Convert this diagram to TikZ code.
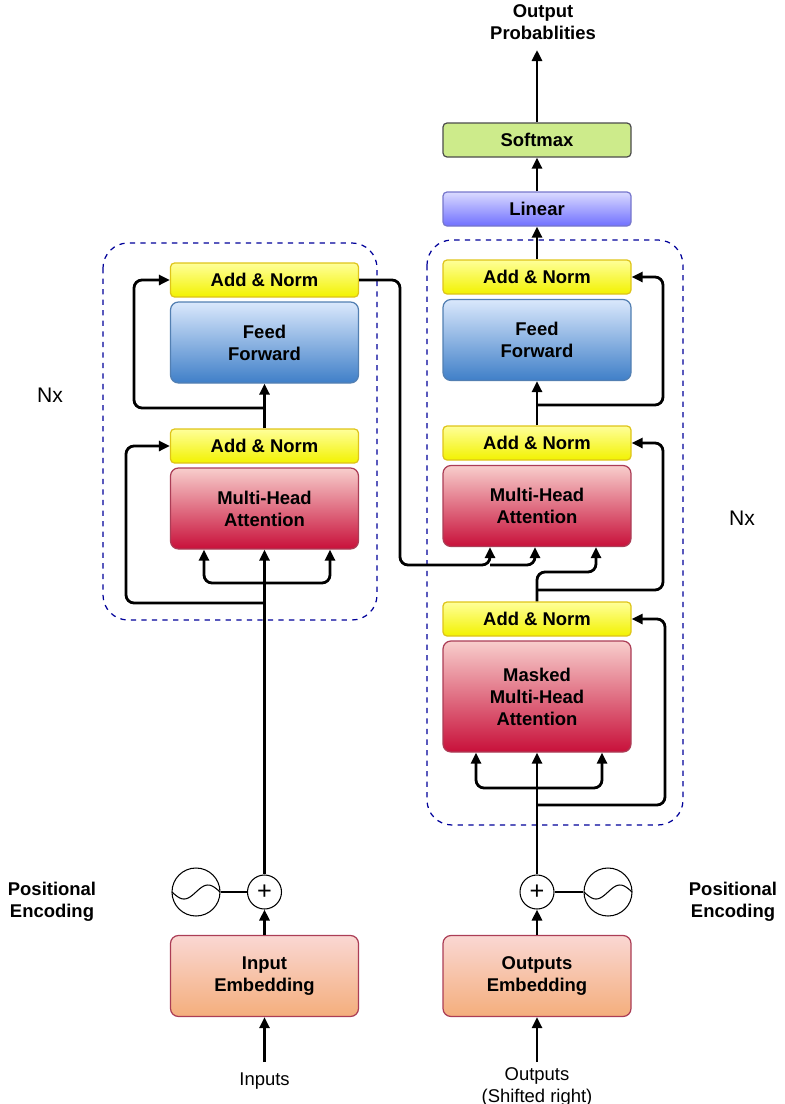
\documentclass[tikz,border=0pt]{standalone}
\usepackage{fontspec}
\setmainfont{Liberation Sans}
\usetikzlibrary{arrows.meta,positioning,calc}

\definecolor{anTop}{HTML}{FFFF99}
\definecolor{anBot}{HTML}{F2F200}
\definecolor{ffTop}{HTML}{DAE8FC}
\definecolor{ffBot}{HTML}{3F7FC8}
\definecolor{mhTop}{HTML}{F8CECC}
\definecolor{mhBot}{HTML}{C8103A}
\definecolor{emTop}{HTML}{FAD7D3}
\definecolor{emBot}{HTML}{F4AE7C}
\definecolor{smFill}{HTML}{CDEB8B}
\definecolor{liTop}{HTML}{DADAFF}
\definecolor{liBot}{HTML}{7070FF}

\begin{document}
\begin{tikzpicture}
            [x=0.2mm, y=-0.2mm, >={Triangle[length=2.2mm,width=2mm]},
             font=\bfseries\fontsize{10.5}{12.5}\selectfont,
             box/.style={draw, rounded corners=1.6mm, minimum width=37.6mm, align=center, line width=0.7pt},
             addnorm/.style={box, rounded corners=0.8mm, minimum height=6.8mm, draw=anBot!60!brown, top color=anTop, bottom color=anBot},
             feedfwd/.style={box, minimum height=16.2mm, draw=ffBot!70!gray, top color=ffTop, bottom color=ffBot},
             attn/.style={box, minimum height=16.2mm, draw=mhBot!60!gray, top color=mhTop, bottom color=mhBot},
             embed/.style={box, minimum height=16.2mm, draw=mhBot!60!gray, top color=emTop, bottom color=emBot},
             plus/.style={draw, circle, minimum size=6.8mm, inner sep=0pt, line width=0.6pt, font=\Large},
             wave/.style={draw, circle, minimum size=9.6mm, inner sep=0pt, line width=0.6pt},
             conn/.style={line width=1.6pt, rounded corners=1.6mm},
             frame/.style={draw=blue!60!black, dashed, line width=0.7pt, rounded corners=5mm}]
            \useasboundingbox (0,0) rectangle (785,1104);

            % encoder
            \draw[frame] (103,243) rectangle (377,620);
            \node[addnorm] (encAN2) at (264.5,280) {Add \& Norm};
            \node[feedfwd] (encFF) at (264.5,342.5) {Feed\\Forward};
            \node[addnorm] (encAN1) at (264.5,446) {Add \& Norm};
            \node[attn] (encMHA) at (264.5,508.5) {Multi-Head\\Attention};
            \node[embed] (encEmb) at (264.5,976) {Input\\Embedding};
            \node[plus] (encPlus) at (264.5,892) {+};
            \node[wave] (encWave) at (196,892) {};
            \node[font=\fontsize{10.5}{12.5}\selectfont] (inputs) at (264.5,1081) {Inputs};
            \node[font=\fontsize{12}{14}\selectfont] (encNx) at (50,395) {Nx};
            \node[align=center] (encPE) at (52,902) {Positional\\Encoding};

            % decoder
            \draw[frame] (427,240) rectangle (683,825);
            \node[box, rounded corners=0.8mm, minimum height=6.8mm, draw=black!70, fill=smFill] (softmax) at (537,140) {Softmax};
            \node[box, rounded corners=0.8mm, minimum height=6.8mm, draw=liBot!60!gray, top color=liTop, bottom color=liBot] (linear) at (537,209) {Linear};
            \node[addnorm] (decAN3) at (537,277) {Add \& Norm};
            \node[feedfwd] (decFF) at (537,340) {Feed\\Forward};
            \node[addnorm] (decAN2) at (537,443) {Add \& Norm};
            \node[attn] (decMHA) at (537,506) {Multi-Head\\Attention};
            \node[addnorm] (decAN1) at (537,619) {Add \& Norm};
            \node[attn, minimum height=22.2mm] (decMask) at (537,696.5) {Masked\\Multi-Head\\Attention};
            \node[embed] (decEmb) at (537,976) {Outputs\\Embedding};
            \node[plus] (decPlus) at (537,892) {+};
            \node[wave] (decWave) at (608,892) {};
            \node[font=\fontsize{10.5}{12.5}\selectfont, align=center] (outputs) at (537,1087) {Outputs\\(Shifted right)};
            \node[font=\fontsize{12}{14}\selectfont] (decNx) at (742,518) {Nx};
            \node[align=center] (decPE) at (733,902) {Positional\\Encoding};
            \node[align=center] (probs) at (543,22) {Output\\Probablities};
            \coordinate (probsIn) at (537,50);
            \coordinate (inStart) at (264.5,1062);
            \coordinate (outStart) at (537,1062);

            % sine waves
            \foreach \c in {encWave, decWave}
                \draw[line width=0.6pt, shift={(\c)}, domain=-24:24, samples=40, smooth]
                    plot (\x, {-7*sin(\x*7.5)});

            % encoder connectors
            \draw[conn, ->] (inStart) -- (encEmb);
            \draw[conn, ->] (encEmb) -- (encPlus);
            \draw[line width=0.6pt] (encWave) -- (encPlus);
            \draw[conn, ->] (encPlus) -- (encMHA);
            \draw[conn, ->] (264.5,583) -| (encMHA.south -| 204,0);
            \draw[conn, ->] (264.5,583) -| (encMHA.south -| 330,0);
            \draw[conn, ->] (264.5,603) -| (126,446) -- (encAN1.west);
            \draw[conn, ->] (encAN1) -- (encFF);
            \draw[conn, ->] (264.5,408) -| (134,280) -- (encAN2.west);
            \draw[conn, ->] (encAN2.east) -| (400,565) -| (decMHA.south -| 490,0);
            \draw[conn, ->] (490,565) -| (decMHA.south -| 535,0);

            % decoder connectors
            \draw[conn, ->] (outStart) -- (decEmb);
            \draw[conn, ->] (decEmb) -- (decPlus);
            \draw[line width=0.6pt] (decWave) -- (decPlus);
            \draw[conn, ->] (decPlus) -- (decMask);
            \draw[conn, ->] (537,788) -| (decMask.south -| 476,0);
            \draw[conn, ->] (537,788) -| (decMask.south -| 602,0);
            \draw[conn, ->] (537,805) -| (665,619) -- (decAN1.east);
            \draw[conn, ->] (decAN1.north) |- (596,572) -- (decMHA.south -| 596,0);
            \draw[conn, ->] (537,590) -| (663,443) -- (decAN2.east);
            \draw[conn, ->] (decAN2) -- (decFF);
            \draw[conn, ->] (537,405) -| (663,277) -- (decAN3.east);
            \draw[conn, ->] (decAN3) -- (linear);
            \draw[conn, ->] (linear) -- (softmax);
            \draw[conn, ->] (softmax) -- (probsIn);
        \end{tikzpicture}
\end{document}
